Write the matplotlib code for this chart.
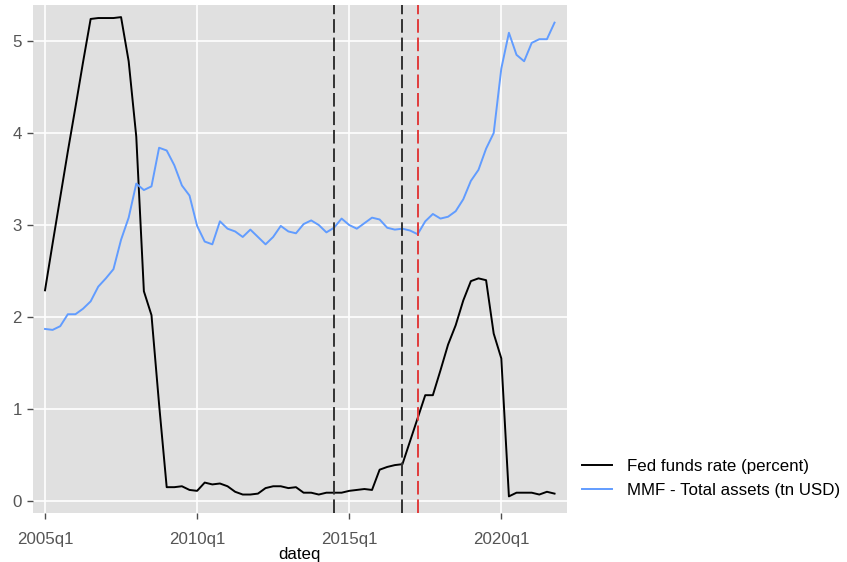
import matplotlib
matplotlib.use("Agg")
import matplotlib.pyplot as plt
import numpy as np

plt.rcParams['font.family'] = ['Liberation Sans', 'DejaVu Sans']

# quarterly dates 2005q1 .. 2021q4
dateq = [f"{y}q{q}" for y in range(2005, 2022) for q in range(1, 5)]

fed_funds = [2.29, 2.80, 3.30, 3.80, 4.28, 4.77, 5.24, 5.25, 5.25, 5.25,
             5.26, 4.78, 3.96, 2.28, 2.02, 1.05, 0.15, 0.15, 0.16, 0.12,
             0.11, 0.20, 0.18, 0.19, 0.16, 0.10, 0.07, 0.07, 0.08, 0.14,
             0.16, 0.16, 0.14, 0.15, 0.09, 0.09, 0.07, 0.09, 0.09, 0.09,
             0.11, 0.12, 0.13, 0.12, 0.34, 0.37, 0.39, 0.40, 0.65, 0.90,
             1.15, 1.15, 1.42, 1.70, 1.91, 2.18, 2.39, 2.42, 2.40, 1.82,
             1.55, 0.05, 0.09, 0.09, 0.09, 0.07, 0.10, 0.08]

mmf_assets = [1.87, 1.86, 1.90, 2.03, 2.03, 2.09, 2.17, 2.33, 2.42, 2.52,
              2.84, 3.08, 3.45, 3.38, 3.42, 3.84, 3.81, 3.65, 3.43, 3.32,
              2.99, 2.82, 2.79, 3.04, 2.96, 2.93, 2.87, 2.95, 2.87, 2.79,
              2.87, 2.99, 2.93, 2.91, 3.01, 3.05, 3.00, 2.92, 2.97, 3.07,
              3.00, 2.96, 3.02, 3.08, 3.06, 2.97, 2.95, 2.96, 2.94, 2.90,
              3.04, 3.12, 3.07, 3.09, 3.15, 3.28, 3.48, 3.60, 3.83, 4.00,
              4.70, 5.09, 4.85, 4.78, 4.98, 5.02, 5.02, 5.20]

black_events = ["2014q3", "2016q4"]
red_events = ["2017q2"]
tick_labels = ["2005q1", "2010q1", "2015q1", "2020q1"]

x = np.arange(len(dateq))

fig = plt.figure(figsize=(8.47, 5.62), dpi=100)
ax = fig.add_axes([33 / 847, (562 - 513.3) / 562, (566.7 - 33) / 847, (513.3 - 4.7) / 562])
ax.set_facecolor('#E0E0E0')
for s in ax.spines.values():
    s.set_visible(False)

ax.set_yticks(range(6))
ax.set_xticks([dateq.index(t) for t in tick_labels])
ax.set_xticklabels(tick_labels)
ax.grid(True, color='white', linewidth=1.2)
ax.set_axisbelow(True)
ax.tick_params(colors='#4D4D4D', labelcolor='#555555', labelsize=12.2, length=4.5, width=1)
ax.tick_params(axis='x', pad=9)

ax.plot(x, fed_funds, color='black', linewidth=1.4, label='Fed funds rate (percent)')
ax.plot(x, mmf_assets, color='#619CFF', linewidth=1.4, label='MMF - Total assets (tn USD)')

for d in black_events:
    ax.axvline(dateq.index(d), color='#333333', linewidth=1.4, linestyle=(0, (7, 2.5)))
for d in red_events:
    ax.axvline(dateq.index(d), color='#E03C3C', linewidth=1.4, linestyle=(0, (7, 2.5)))

ax.set_xlim(-1.58, 68.6)
ax.set_ylim(-0.134, 5.395)
ax.set_xlabel('dateq', fontsize=12.2, labelpad=0)

ax.legend(loc='center left', bbox_to_anchor=(1.0, 0.068), frameon=False,
          fontsize=12.2, handlelength=1.8, handletextpad=0.85, labelspacing=0.55)

fig.savefig('out.png', dpi=100)
